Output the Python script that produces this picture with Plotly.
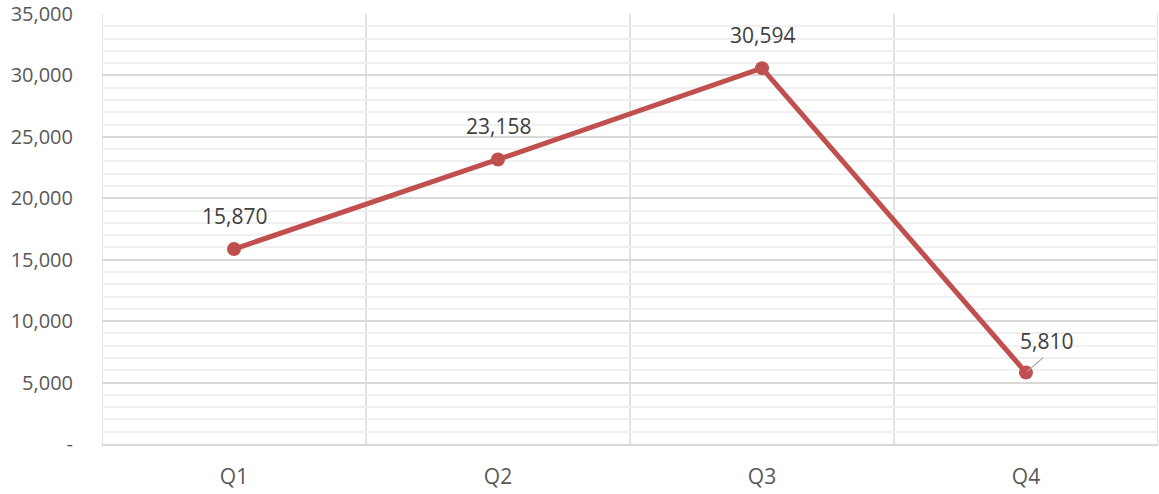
import plotly.graph_objects as go

categories = ["Q1", "Q2", "Q3", "Q4"]
values = [15870, 23158, 30594, 5810]
y_tick_vals = [0, 5000, 10000, 15000, 20000, 25000, 30000, 35000]
y_tick_text = ["-", "5,000", "10,000", "15,000", "20,000", "25,000", "30,000", "35,000"]

xs = list(range(len(categories)))
font_family = "'Open Sans', sans-serif"
tick_color = "#595959"
label_color = "#404040"
grid_major = "#D9D9D9"
grid_minor = "#F0F0F0"

fig = go.Figure()
fig.add_trace(go.Scatter(
    x=xs, y=values, mode="lines+markers",
    line=dict(color="#C0504D", width=5),
    marker=dict(color="#C0504D", size=14),
    showlegend=False, hoverinfo="skip",
))

for i, (xv, yv) in enumerate(zip(xs, values)):
    label = f"{yv:,}"
    if i == len(xs) - 1:
        fig.add_annotation(x=xv, y=yv, text=label, showarrow=False,
                           xshift=20, yshift=32,
                           font=dict(family=font_family, size=21, color=label_color))
        # leader line from point towards label
        fig.add_shape(type="line", xref="x", yref="y",
                      xsizemode="pixel", ysizemode="pixel",
                      xanchor=xv, yanchor=yv, x0=1, y0=1, x1=17, y1=15,
                      line=dict(color="#A6A6A6", width=1.3), layer="above")
    else:
        fig.add_annotation(x=xv, y=yv, text=label, showarrow=False,
                           yshift=33,
                           font=dict(family=font_family, size=21, color=label_color))

# vertical category boundary lines
for b in [i - 0.5 for i in range(len(categories) + 1)]:
    fig.add_shape(type="line", xref="x", yref="paper", x0=b, x1=b, y0=0, y1=1,
                  line=dict(color=grid_major, width=1.5), layer="below")

fig.update_layout(
    width=1159, height=494,
    margin=dict(l=102, r=1, t=14, b=50),
    paper_bgcolor="white", plot_bgcolor="white",
    font=dict(family=font_family, color=tick_color, size=20),
)
fig.update_xaxes(
    range=[-0.5, len(categories) - 0.5], tickvals=xs, ticktext=categories,
    showgrid=False, zeroline=False, automargin=False,
    showline=True, linecolor=grid_major, linewidth=1.5,
    ticks="", ticklabelstandoff=13,
    tickfont=dict(size=21, color=tick_color),
)
fig.update_yaxes(
    range=[0, 35000], tickvals=y_tick_vals, ticktext=y_tick_text,
    showgrid=True, gridcolor=grid_major, gridwidth=1.5,
    zeroline=False, showline=False, ticks="", ticklabelstandoff=28,
    ticklabeloverflow="allow", automargin=False,
    minor=dict(dtick=1000, showgrid=True, gridcolor=grid_minor, gridwidth=1.5),
    tickfont=dict(size=20, color=tick_color),
)

fig.write_html("out.html")
